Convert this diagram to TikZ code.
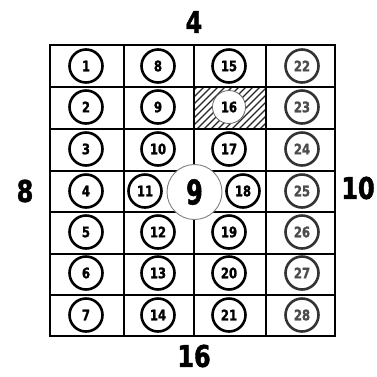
\documentclass[tikz,border=0pt]{standalone}
\usepackage{fontspec}
\setmainfont{DejaVu Sans}
\newfontfamily\condfont[FakeStretch=0.8,FakeBold=1.5]{DejaVu Sans Bold}
\newfontfamily\narrowfont[FakeStretch=0.7,FakeBold=1.5]{DejaVu Sans Bold}
\begin{document}
\begin{tikzpicture}[x=1pt,y=-1pt,
  cell/.style={draw=black,line width=1.4pt},
  num/.style={circle,draw=black,line width=2.6pt,fill=white,minimum size=33pt,inner sep=0pt,font=\condfont\fontsize{14.5}{14.5}\selectfont},
  numg/.style={num,draw=black!80,text=black!70},
  numh/.style={num,draw=black!60,line width=0.8pt},
  big/.style={circle,draw=black!50,line width=0.9pt,fill=white,minimum size=55pt,inner sep=0pt,font=\narrowfont\fontsize{34}{34}\selectfont},
  side/.style={font=\condfont\fontsize{30}{30}\selectfont,inner sep=0pt},
  hatch/.style={line width=1.3pt,black!85}]
\useasboundingbox (0,0) rectangle (377,376);
% hatched cell
\begin{scope}
  \clip (194,87) rectangle (266,129);
  \foreach \k in {-60,-53,...,80} \draw[hatch] (194+\k,129) -- (194+\k+42,87);
\end{scope}
% grid
\foreach \yy in {45,87,129,171,212,254,295,336} \draw[cell] (50,\yy) -- (335,\yy);
\foreach \xx in {50,124,194,266,335} \draw[cell] (\xx,45) -- (\xx,336);
\draw[line width=1.8pt] (50,45) rectangle (335,336);
% numbered circles
\node[num] (c1) at (86,66) {1};
\node[num] (c2) at (86,107) {2};
\node[num] (c3) at (86,149) {3};
\node[num] (c4) at (86,191) {4};
\node[num] (c5) at (86,232) {5};
\node[num] (c6) at (86,273) {6};
\node[num] (c7) at (86,315) {7};
\node[num] (c8) at (158,66) {8};
\node[num] (c9) at (158,107) {9};
\node[num] (c10) at (158,149) {10};
\node[num] (c11) at (145,191) {11};
\node[num] (c12) at (158,232) {12};
\node[num] (c13) at (158,273) {13};
\node[num] (c14) at (158,315) {14};
\node[num] (c15) at (229,66) {15};
\node[numh] (c16) at (229,107) {16};
\node[num] (c17) at (229,149) {17};
\node[num] (c18) at (243,191) {18};
\node[num] (c19) at (229,232) {19};
\node[num] (c20) at (229,273) {20};
\node[num] (c21) at (229,315) {21};
\node[numg] (c22) at (302,66) {22};
\node[numg] (c23) at (302,107) {23};
\node[numg] (c24) at (302,149) {24};
\node[numg] (c25) at (302,191) {25};
\node[numg] (c26) at (302,232) {26};
\node[numg] (c27) at (302,273) {27};
\node[numg] (c28) at (302,315) {28};
% big center circle
\node[big] (center) at (194.5,192) {9};
% side labels
\node[side] (top) at (194,22) {4};
\node[side] (left) at (25,191) {8};
\node[side] (right) at (358,188) {10};
\node[side] (bottom) at (194,356) {16};
\end{tikzpicture}
\end{document}
